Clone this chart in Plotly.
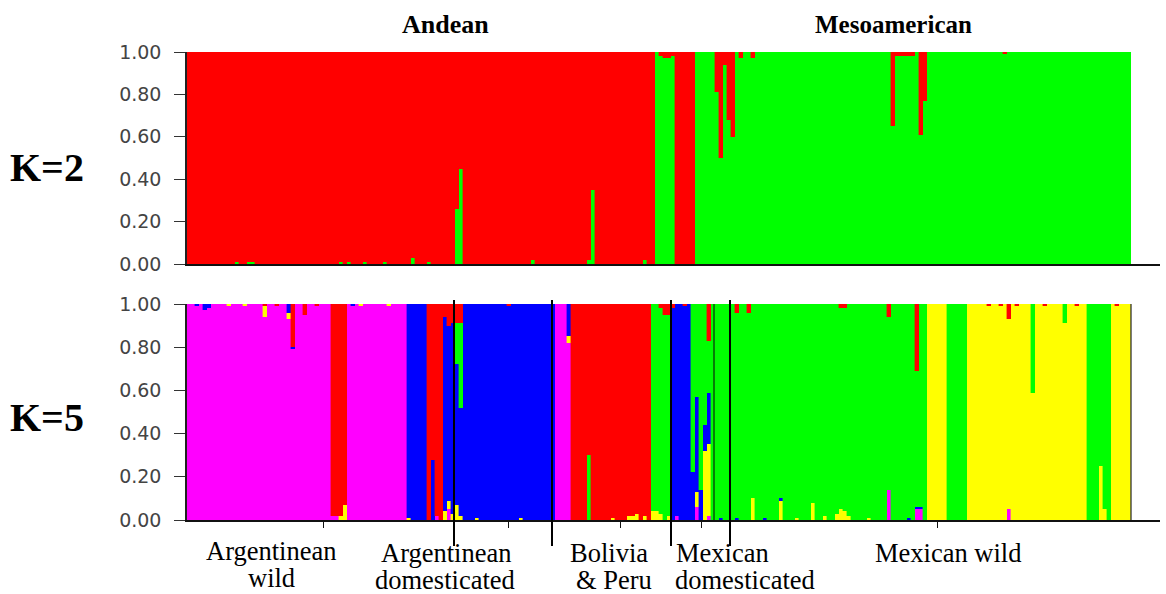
import plotly.graph_objects as go

W, H = 1166, 594

# ---------------- data ----------------
n_individuals = 236

# K=2 : runs of (number of individuals, main cluster)
k2_runs = [(117, "red"), (5, "green"), (5, "red"), (109, "green")]
# K=2 : admixed individuals -> share of the minority cluster
k2_admix = {
    12: {"green": 0.01}, 15: {"green": 0.01}, 16: {"green": 0.01},
    38: {"green": 0.01}, 40: {"green": 0.01}, 44: {"green": 0.01},
    49: {"green": 0.01}, 56: {"green": 0.03}, 60: {"green": 0.01},
    67: {"green": 0.26}, 68: {"green": 0.45}, 86: {"green": 0.02},
    100: {"green": 0.02}, 101: {"green": 0.35}, 114: {"green": 0.02},
    118: {"red": 0.02}, 119: {"red": 0.03}, 120: {"red": 0.03}, 121: {"red": 0.02},
    132: {"red": 0.19}, 133: {"red": 0.50}, 134: {"red": 0.06},
    135: {"red": 0.32}, 136: {"red": 0.40}, 138: {"red": 0.03},
    141: {"red": 0.03}, 176: {"red": 0.35}, 177: {"red": 0.02},
    178: {"red": 0.02}, 179: {"red": 0.02}, 180: {"red": 0.02},
    181: {"red": 0.02}, 183: {"red": 0.39}, 184: {"red": 0.23},
    204: {"red": 0.01},
}
k2_order = ["green", "red"]  # bottom -> top

# K=5 : runs of (number of individuals, main cluster)
k5_runs = [(36, "magenta"), (4, "red"), (15, "magenta"), (5, "blue"),
           (4, "red"), (28, "blue"), (4, "magenta"), (20, "red"),
           (5, "green"), (5, "blue"), (59, "green"), (5, "yellow"),
           (5, "green"), (30, "yellow"), (6, "green"), (5, "yellow")]
k5_admix = {
    2: {"blue": 0.01}, 4: {"blue": 0.03}, 5: {"blue": 0.02},
    10: {"yellow": 0.01}, 14: {"yellow": 0.01},
    19: {"yellow": 0.05, "red": 0.01}, 22: {"red": 0.01},
    25: {"blue": 0.04, "yellow": 0.03}, 26: {"red": 0.20, "blue": 0.01},
    29: {"red": 0.05}, 32: {"red": 0.01},
    36: {"magenta": 0.02}, 37: {"magenta": 0.02},
    38: {"yellow": 0.02}, 39: {"yellow": 0.07},
    41: {"blue": 0.01}, 43: {"yellow": 0.01}, 50: {"yellow": 0.01},
    55: {"yellow": 0.01},
    61: {"blue": 0.28}, 62: {"magenta": 0.02},
    64: {"red": 0.06, "yellow": 0.04},
    65: {"red": 0.10, "magenta": 0.05, "yellow": 0.04},
    66: {"red": 0.09, "yellow": 0.03},
    67: {"red": 0.09, "green": 0.19, "yellow": 0.07},
    68: {"red": 0.09, "green": 0.39, "yellow": 0.02},
    72: {"yellow": 0.01}, 80: {"red": 0.01}, 83: {"yellow": 0.01},
    95: {"blue": 0.15, "yellow": 0.03},
    100: {"green": 0.30}, 106: {"yellow": 0.01}, 110: {"yellow": 0.02},
    111: {"yellow": 0.02}, 112: {"yellow": 0.03}, 114: {"yellow": 0.02},
    116: {"yellow": 0.04}, 117: {"yellow": 0.04},
    118: {"yellow": 0.03, "red": 0.02}, 119: {"red": 0.05},
    120: {"red": 0.05, "yellow": 0.02},
    121: {"red": 0.02}, 122: {"magenta": 0.02}, 124: {"red": 0.01},
    126: {"blue": 0.22},
    127: {"blue": 0.44, "yellow": 0.07, "magenta": 0.06},
    128: {"blue": 0.14},
    129: {"blue": 0.12, "yellow": 0.32},
    130: {"red": 0.17, "blue": 0.24, "yellow": 0.33, "magenta": 0.02},
    133: {"blue": 0.01}, 137: {"red": 0.04, "blue": 0.01}, 140: {"red": 0.04},
    141: {"yellow": 0.10}, 144: {"blue": 0.01},
    148: {"yellow": 0.09, "blue": 0.01}, 152: {"yellow": 0.01},
    156: {"yellow": 0.08}, 159: {"yellow": 0.02}, 162: {"yellow": 0.03},
    163: {"yellow": 0.05, "red": 0.02}, 164: {"yellow": 0.04, "red": 0.02},
    165: {"yellow": 0.02}, 170: {"yellow": 0.01},
    175: {"magenta": 0.14, "red": 0.06}, 180: {"blue": 0.01},
    182: {"red": 0.31, "magenta": 0.05, "blue": 0.01},
    183: {"magenta": 0.05, "blue": 0.01},
    200: {"red": 0.01}, 203: {"red": 0.01},
    205: {"red": 0.07, "magenta": 0.05}, 207: {"red": 0.01},
    211: {"green": 0.41}, 214: {"red": 0.01}, 219: {"green": 0.09},
    222: {"red": 0.01},
    228: {"yellow": 0.25}, 229: {"yellow": 0.05}, 232: {"red": 0.01},
}
k5_order = ["magenta", "yellow", "blue", "green", "red"]  # bottom -> top

cluster_colors = {"red": "#FF0000", "green": "#00FF00", "blue": "#0000FF",
                  "magenta": "#FF00FF", "yellow": "#FFFF00"}

y_ticks = [0.0, 0.2, 0.4, 0.6, 0.8, 1.0]
y_tick_labels = ["0.00", "0.20", "0.40", "0.60", "0.80", "1.00"]
k5_x_ticks = [33.5, 79.75, 107.75, 128, 187]

# separators between groups (K=5 panel), in individual units
group_separators = [66.25, 90.75, 120.5, 135.25]

group_labels = [
    ("Argentinean", 271, 551), ("wild", 271, 578),
    ("Argentinean", 446, 553), ("domesticated", 445, 580),
    ("Bolivia", 609, 553), ("& Peru", 614, 580),
    ("Mexican", 722, 553), ("domesticated", 745, 580),
    ("Mexican wild", 948, 553),
]


def expand(runs, admix, order):
    main = []
    for count, c in runs:
        main += [c] * count
    q = {c: [0.0] * len(main) for c in order}
    for i, c in enumerate(main):
        extra = admix.get(i, {})
        rest = 1.0
        for k, v in extra.items():
            q[k][i] = v
            rest -= v
        q[c][i] = rest
    return q


k2 = expand(k2_runs, k2_admix, k2_order)
k5 = expand(k5_runs, k5_admix, k5_order)
idx = list(range(n_individuals))

fig = go.Figure()
for c in k2_order:
    fig.add_trace(go.Bar(x=idx, y=k2[c], width=1, xaxis="x", yaxis="y",
                         marker=dict(color=cluster_colors[c],
                                     line=dict(width=0.4, color=cluster_colors[c])),
                         showlegend=False, hoverinfo="skip"))
for c in k5_order:
    fig.add_trace(go.Bar(x=idx, y=k5[c], width=1, xaxis="x2", yaxis="y2",
                         marker=dict(color=cluster_colors[c],
                                     line=dict(width=0.4, color=cluster_colors[c])),
                         showlegend=False, hoverinfo="skip"))


def px_x(p):
    return p / W


def px_y(p):
    return 1 - p / H


left, right = 187, 1160
xr = [-0.5, -0.5 + (right - left) / 4.0]

yaxis_common = dict(range=[0, 1], tickvals=y_ticks, ticktext=y_tick_labels,
                    ticks="outside", ticklen=11, tickcolor="#333", tickwidth=1.3,
                    showline=True, linecolor="#222", linewidth=1.5,
                    showgrid=False, zeroline=False, ticklabelstandoff=9,
                    automargin=False,
                    tickfont=dict(family="DejaVu Sans", size=19, color="#444"))

fig.update_layout(
    width=W, height=H, margin=dict(l=0, r=0, t=0, b=0, autoexpand=False),
    paper_bgcolor="white", plot_bgcolor="white",
    barmode="stack", bargap=0,
    xaxis=dict(domain=[px_x(left), px_x(right)], range=xr, anchor="y",
               showline=True, linecolor="#111", linewidth=1.5, automargin=False,
               showticklabels=False, ticks="", showgrid=False, zeroline=False),
    yaxis=dict(domain=[px_y(264), px_y(52)], anchor="x", **yaxis_common),
    xaxis2=dict(domain=[px_x(left), px_x(right)], range=xr, anchor="y2",
                showline=True, linecolor="#111", linewidth=1.5, automargin=False,
                tickvals=k5_x_ticks, ticks="outside", ticklen=6, tickcolor="#111",
                showticklabels=False, showgrid=False, zeroline=False),
    yaxis2=dict(domain=[px_y(520), px_y(304)], anchor="x2", **yaxis_common),
)

shapes = []
for s in group_separators:
    shapes.append(dict(type="line", xref="x2", yref="paper", x0=s, x1=s,
                       y0=px_y(546), y1=px_y(300),
                       line=dict(color="black", width=2)))
shapes.append(dict(type="line", xref="x2", yref="y2", x0=131.25, x1=131.25,
                   y0=0, y1=1, line=dict(color="#0a3a0a", width=1.3)))
shapes.append(dict(type="line", xref="x2", yref="y2",
                   x0=n_individuals - 0.5, x1=n_individuals - 0.5,
                   y0=0, y1=1, line=dict(color="#333", width=1.3)))
fig.update_layout(shapes=shapes)

ann = []
serif = "Liberation Serif"


def label(text, x, y, size):
    ann.append(dict(text=text, x=px_x(x), y=px_y(y), xref="paper", yref="paper",
                    xanchor="center", yanchor="middle", showarrow=False,
                    font=dict(family=serif, size=size, color="black")))


label("<b>Andean</b>", 445, 25, 26)
label("<b>Mesoamerican</b>", 893, 25, 25)
label("<b>K=2</b>", 47, 167, 40)
label("<b>K=5</b>", 47, 417, 40)
for t, x, y in group_labels:
    label(t, x, y, 26.5)
fig.update_layout(annotations=ann)

fig.write_html("out.html", config={"displayModeBar": False},
               post_script="document.body.style.margin='0px';")
